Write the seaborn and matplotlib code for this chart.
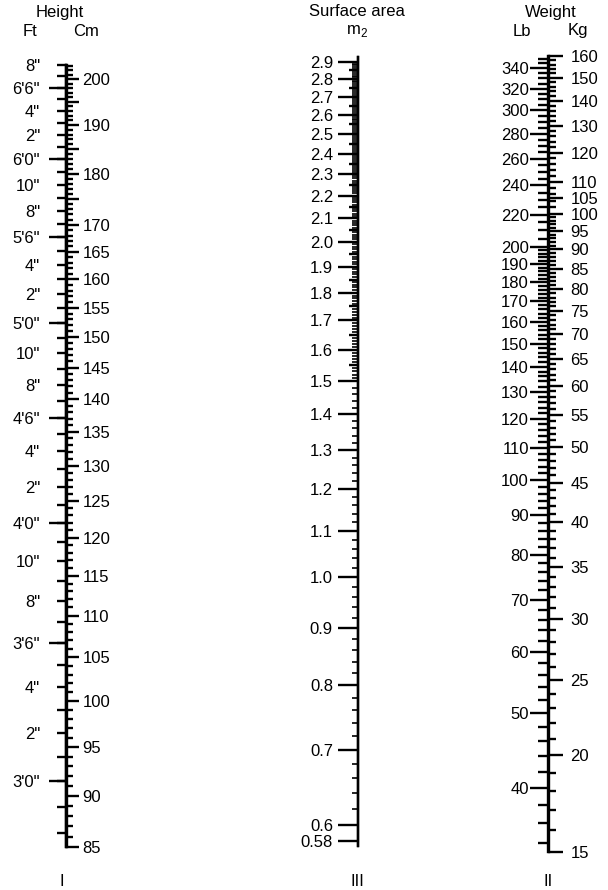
# body surface area nomogram: height / surface area / weight
import numpy as np
import matplotlib
matplotlib.use('Agg')
import matplotlib.pyplot as plt
from matplotlib.ticker import NullFormatter
import seaborn as sns

# ---- scale values ----
# height, left side: feet/inches (in total inches), labels every 2 in
height_in = [36, 38, 40, 42, 44, 46, 48, 50, 52, 54, 56, 58, 60, 62, 64, 66, 68, 70, 72, 74, 76, 78, 80]
height_in_labels = ["3'0\"", '2"', '4"', "3'6\"", '8"', '10"', "4'0\"", '2"', '4"', "4'6\"", '8"', '10"',
                    "5'0\"", '2"', '4"', "5'6\"", '8"', '10"', "6'0\"", '2"', '4"', "6'6\"", '8"']
height_half_ft = [36, 42, 48, 54, 60, 66, 72, 78]
height_in_minor = np.arange(34, 81, 1)
# height, right side: centimetres
height_cm = [85, 90, 95, 100, 105, 110, 115, 120, 125, 130, 135, 140, 145, 150,
             155, 160, 165, 170, 175, 180, 185, 190, 195, 200]
height_cm_labels = ['85', '90', '95', '100', '105', '110', '115', '120', '125', '130', '135', '140', '145',
                    '150', '155', '160', '165', '170', '', '180', '', '190', '', '200']
height_cm_minor = np.arange(85, 204, 1)

# surface area (m2)
area = [0.58, 0.6, 0.7, 0.8, 0.9, 1.0, 1.1, 1.2, 1.3, 1.4, 1.5, 1.6, 1.7, 1.8, 1.9,
        2.0, 2.1, 2.2, 2.3, 2.4, 2.5, 2.6, 2.7, 2.8, 2.9]
area_labels = ['0.58', '0.6', '0.7', '0.8', '0.9', '1.0', '1.1', '1.2', '1.3', '1.4', '1.5', '1.6', '1.7',
               '1.8', '1.9', '2.0', '2.1', '2.2', '2.3', '2.4', '2.5', '2.6', '2.7', '2.8', '2.9']
area_minor = np.concatenate([np.arange(0.58, 1.5, 0.02), np.arange(1.5, 2.905, 0.01)])
area_mid = np.arange(1.55, 2.9, 0.1)

# weight, left side: pounds
weight_lb = [40, 50, 60, 70, 80, 90, 100, 110, 120, 130, 140, 150, 160, 170, 180, 190, 200,
             220, 240, 260, 280, 300, 320, 340]
weight_lb_minor = np.concatenate([np.arange(34, 200, 2), np.arange(200, 351, 5)])
# weight, right side: kilograms
weight_kg = [15, 20, 25, 30, 35, 40, 45, 50, 55, 60, 65, 70, 75, 80, 85, 90, 95, 100, 105, 110,
             120, 130, 140, 150, 160]
weight_kg_minor = np.concatenate([np.arange(15, 100, 1), np.arange(100, 161, 2)])

CM_PER_IN = 2.54
LB_PER_KG = 2.20462

sns.set_theme(style='white')
plt.rcParams['font.family'] = ['Liberation Sans', 'DejaVu Sans']
plt.rcParams['mathtext.fontset'] = 'custom'
plt.rcParams['mathtext.rm'] = 'Liberation Sans'
plt.rcParams['text.color'] = 'black'

W, H = 608, 890
PX = 0.72  # points per pixel at dpi 100
fig = plt.figure(figsize=(W / 100, H / 100), dpi=100)
fig.patch.set_facecolor('white')
FS = 12
LW = 1.7


def layer(x, top, bottom, lims, side, major, labels=None, major_len=8, pad=3,
          minor=None, minor_len=5, minor_w=LW):
    ax = fig.add_axes([x / W, 1 - bottom / H, 0.5 / W, (bottom - top) / H])
    ax.set_yscale('log')
    ax.set_ylim(*lims)
    ax.set_xticks([])
    ax.patch.set_alpha(0)
    for s in ax.spines.values():
        s.set_visible(False)
    ax.spines[side].set_visible(True)
    ax.spines[side].set_linewidth(LW)
    ax.spines[side].set_color('black')
    ax.yaxis.set_ticks_position(side)
    if labels is None:
        ax.set_yticks(major)
        ax.yaxis.set_major_formatter(NullFormatter())
    else:
        ax.set_yticks(major, labels)
    if minor is not None:
        ax.set_yticks(minor, minor=True)
    else:
        ax.set_yticks([], minor=True)
    ax.yaxis.set_minor_formatter(NullFormatter())
    ax.tick_params(axis='y', which='major', direction='out', length=major_len * PX, width=LW,
                   color='black', pad=pad * PX, labelsize=FS, labelcolor='black')
    ax.tick_params(axis='y', which='minor', direction='out', length=minor_len * PX, width=minor_w,
                   color='black')
    return ax


# height scale (I)
h_lims = (85, 80 * CM_PER_IN)
hx, htop, hbot = 66, 64.8, 847
layer(hx, htop, hbot, h_lims, 'left', [v * CM_PER_IN for v in height_in], height_in_labels,
      major_len=9, pad=17, minor=height_in_minor * CM_PER_IN, minor_len=9)
layer(hx, htop, hbot, h_lims, 'left', [v * CM_PER_IN for v in height_half_ft], None, major_len=17)
layer(hx, htop, hbot, h_lims, 'right', height_cm, height_cm_labels,
      major_len=12, pad=4, minor=height_cm_minor, minor_len=6)

# surface area scale (III)
layer(358, 57, 846, (0.574, 2.93), 'left', area, area_labels,
      major_len=20, pad=5, minor=area_minor, minor_len=6, minor_w=1.2)
layer(358, 57, 846, (0.574, 2.93), 'left', area_mid, None, major_len=9)

# weight scale (II)
w_lims = (15, 160)
wx, wtop, wbot = 548, 56, 852
layer(wx, wtop, wbot, w_lims, 'left', [v / LB_PER_KG for v in weight_lb], [str(v) for v in weight_lb],
      major_len=18, pad=1, minor=weight_lb_minor / LB_PER_KG, minor_len=10)
layer(wx, wtop, wbot, w_lims, 'right', weight_kg, [str(v) for v in weight_kg],
      major_len=14, pad=8, minor=weight_kg_minor, minor_len=7)


# headings and scale numerals
def ftext(x, y, s, **kw):
    fig.text(x / W, 1 - y / H, s, ha='center', va='center', fontsize=FS, **kw)


ftext(60, 12, 'Height')
ftext(30, 31, 'Ft')
ftext(86, 31, 'Cm')
ftext(357, 12, 'Surface area')
ftext(357, 31, r'm$_\mathrm{2}$')
ftext(551, 12, 'Weight')
ftext(522, 31, 'Lb')
ftext(578, 31, 'Kg')
ftext(62, 881, 'I')
ftext(357, 881, 'III')
ftext(548, 881, 'II')

fig.savefig('out.png', dpi=100, facecolor='white')
